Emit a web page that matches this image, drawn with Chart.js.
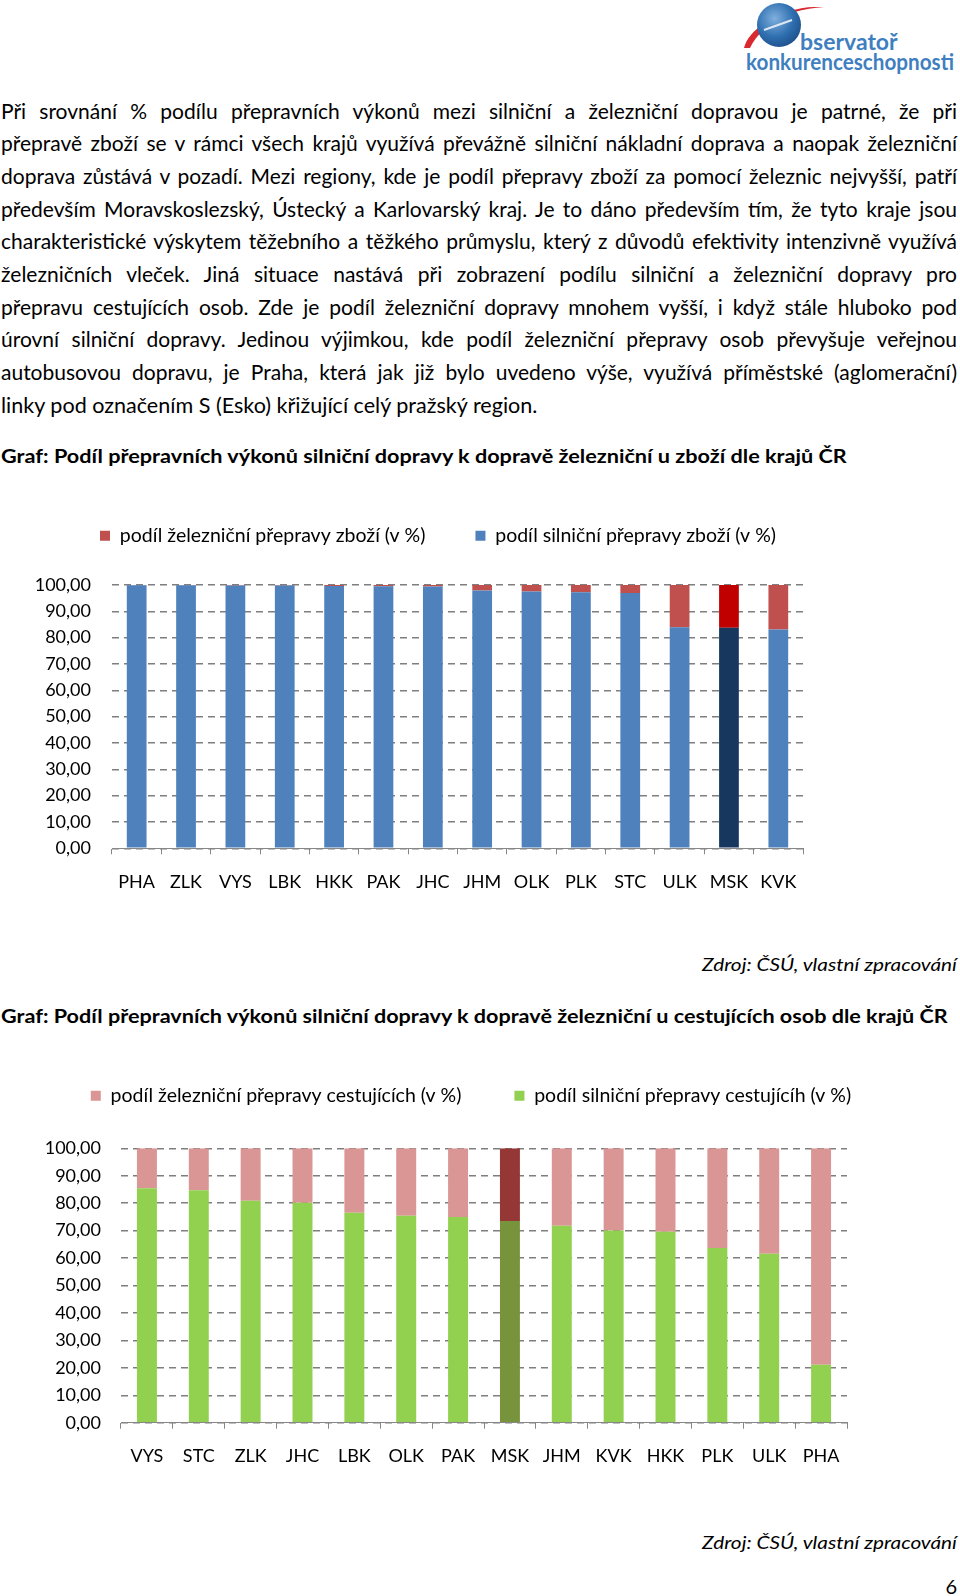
<!DOCTYPE html>
<html lang="cs">
<head>
<meta charset="utf-8">
<script src="https://cdn.jsdelivr.net/npm/chart.js@4.4.1/dist/chart.umd.min.js"></script>
<style>
  html, body { margin: 0; padding: 0; background: #fff; }
  body { width: 960px; height: 1596px; position: relative; overflow: hidden; font-family: Lato, "Open Sans", sans-serif; color: #000; }
  .line { position: absolute; left: 1px; width: 956px; font-size: 20px; line-height: 33px; text-align: justify; text-align-last: justify; }
  .line.last { text-align-last: left; }
  .title { position: absolute; left: 1px; font-size: 19.5px; font-weight: bold; line-height: 30px; white-space: nowrap; transform-origin: left center; }
  .src { position: absolute; right: 3px; font-size: 18px; font-style: italic; line-height: 26px; white-space: nowrap; transform-origin: right center; }
  .pg { position: absolute; right: 3px; top: 1573px; font-size: 20px; line-height: 26px; }
  canvas { position: absolute; left: 0; }
  #logo { position: absolute; left: 720px; top: 0; }
  #measure { position: absolute; visibility: hidden; white-space: nowrap; font-size: 20px; }
</style>
</head>
<body>

<svg id="logo" width="240" height="80" viewBox="0 0 240 80">
  <defs>
    <radialGradient id="ball" cx="40%" cy="35%" r="70%">
      <stop offset="0%" stop-color="#7fb0de"/>
      <stop offset="60%" stop-color="#2f6fb0"/>
      <stop offset="100%" stop-color="#1d4f8a"/>
    </radialGradient>
  </defs>
  <path d="M24 48 C 30 22, 80 2, 104 8 C 80 6, 42 22, 30 48 Z" fill="#d9282f"/>
  <circle cx="59" cy="25" r="22" fill="url(#ball)"/>
  <path d="M44 30 L72 20" stroke="#dbe7f3" stroke-width="2"/>
  <text x="80" y="50" font-family="Lato, sans-serif" font-weight="bold" font-size="23" fill="#3f7fbf">bservatoř</text>
  <text x="26" y="70" font-family="Lato, sans-serif" font-weight="bold" font-size="22" fill="#3f7fbf" textLength="208" lengthAdjust="spacingAndGlyphs">konkurenceschopnosti</text>
</svg>

<div id="para"></div>
<span id="measure"></span>

<div class="title" id="t1" style="top:441px">Graf: Podíl přepravních výkonů silniční dopravy k dopravě železniční u zboží dle krajů ČR</div>
<canvas id="goodsChart" width="876" height="440" style="top:476px"></canvas>
<div class="src" id="s1" style="top:951px">Zdroj: ČSÚ, vlastní zpracování</div>

<div class="title" id="t2" style="top:1001px">Graf: Podíl přepravních výkonů silniční dopravy k dopravě železniční u cestujících osob dle krajů ČR</div>
<canvas id="passChart" width="942" height="450" style="top:1033px"></canvas>
<div class="src" id="s2" style="top:1529px">Zdroj: ČSÚ, vlastní zpracování</div>

<div class="pg">6</div>

<script>
// Text of the page
const paraLines = [
  'Při srovnání % podílu přepravních výkonů mezi silniční a železniční dopravou je patrné, že při',
  'přepravě zboží se v rámci všech krajů využívá převážně silniční nákladní doprava a naopak železniční',
  'doprava zůstává v pozadí. Mezi regiony, kde je podíl přepravy zboží za pomocí železnic nejvyšší, patří',
  'především Moravskoslezský, Ústecký a Karlovarský kraj. Je to dáno především tím, že tyto kraje jsou',
  'charakteristické výskytem těžebního a těžkého průmyslu, který z důvodů efektivity intenzivně využívá',
  'železničních vleček. Jiná situace nastává při zobrazení podílu silniční a železniční dopravy pro',
  'přepravu cestujících osob. Zde je podíl železniční dopravy mnohem vyšší, i když stále hluboko pod',
  'úrovní silniční dopravy. Jedinou výjimkou, kde podíl železniční přepravy osob převyšuje veřejnou',
  'autobusovou dopravu, je Praha, která jak již bylo uvedeno výše, využívá příměstské (aglomerační)',
  'linky pod označením S (Esko) křižující celý pražský region.'
];

// Goods chart data
const goodsRegions = ['PHA', 'ZLK', 'VYS', 'LBK', 'HKK', 'PAK', 'JHC', 'JHM', 'OLK', 'PLK', 'STC', 'ULK', 'MSK', 'KVK'];
const goodsRoad = [99.9, 99.9, 99.85, 99.85, 99.6, 99.5, 99.4, 97.9, 97.5, 97.2, 97.0, 84.0, 83.8, 83.1];
const goodsRail = [0.1, 0.1, 0.15, 0.15, 0.4, 0.5, 0.6, 2.1, 2.5, 2.8, 3.0, 16.0, 16.2, 16.9];

// Passenger chart data
const passRegions = ['VYS', 'STC', 'ZLK', 'JHC', 'LBK', 'OLK', 'PAK', 'MSK', 'JHM', 'KVK', 'HKK', 'PLK', 'ULK', 'PHA'];
const passRoad = [85.4, 84.7, 80.9, 80.2, 76.5, 75.4, 75.0, 73.5, 71.8, 70.0, 69.6, 63.7, 61.6, 21.1];
const passRail = [14.6, 15.3, 19.1, 19.8, 23.5, 24.6, 25.0, 26.5, 28.2, 30.0, 30.4, 36.3, 38.4, 78.9];

const yTicks = { min: 0, max: 100, step: 10 };
const highlightRegion = 'MSK';

// paragraph font: as large as the widest full line allows
const measure = document.getElementById('measure');
let widest = 0;
paraLines.slice(0, -1).forEach(function(txt) {
    measure.textContent = txt;
    widest = Math.max(widest, measure.getBoundingClientRect().width);
});
const paraSize = Math.min(21, 20 * 948 / widest);

const para = document.getElementById('para');
paraLines.forEach(function(txt, i) {
    const d = document.createElement('div');
    d.className = 'line' + (i === paraLines.length - 1 ? ' last' : '');
    d.style.top = (110 + i * 32.7 - 16.5) + 'px';
    d.style.fontSize = paraSize + 'px';
    d.textContent = txt;
    para.appendChild(d);
});

// squeeze single-line texts to the width they have in the print
function fitWidth(el, target) {
    el.style.transform = 'scaleX(' + (target / el.scrollWidth) + ')';
}
fitWidth(document.getElementById('t1'), 846);
fitWidth(document.getElementById('t2'), 947);
fitWidth(document.getElementById('s1'), 255);
fitWidth(document.getElementById('s2'), 255);
const lastLine = para.lastChild;
lastLine.style.width = 'auto';
lastLine.style.whiteSpace = 'nowrap';
lastLine.style.transformOrigin = 'left center';
fitWidth(lastLine, 536);

Chart.defaults.font.family = 'Lato, "Open Sans", sans-serif';
Chart.defaults.color = '#000';

function fmt(v) {
    return v.toFixed(2).replace('.', ',');
}

// g: canvas top, plot left/right, y of 100 and 0, legend padding, tick paddings
function makeChart(id, labels, road, rail, names, colors, g) {
    const canvas = document.getElementById(id);
    const pick = function(normal, dark) {
        return function(ctx) {
            return ctx.chart.data.labels[ctx.dataIndex] === highlightRegion ? dark : normal;
        };
    };
    const legendHeight = g.top100 - g.canvasTop;
    const xHeight = g.canvasTop + canvas.height - g.bottom0;

    return new Chart(canvas, {
        type: 'bar',
        data: {
            labels: labels,
            datasets: [{
                label: names[1],
                data: road,
                backgroundColor: pick(colors.road, colors.roadDark),
                barPercentage: g.barPct,
                categoryPercentage: 1
            }, {
                label: names[0],
                data: rail,
                backgroundColor: pick(colors.rail, colors.railDark),
                barPercentage: g.barPct,
                categoryPercentage: 1
            }]
        },
        options: {
            responsive: false,
            animation: false,
            events: [],
            layout: { padding: 0 },
            plugins: {
                tooltip: { enabled: false },
                legend: {
                    reverse: true,
                    labels: {
                        boxWidth: 10,
                        boxHeight: 10,
                        padding: g.legendPad,
                        font: { size: 19.5 }
                    }
                }
            },
            scales: {
                x: {
                    stacked: true,
                    grid: { drawOnChartArea: false, drawTicks: true, tickLength: 6, color: '#878787' },
                    border: { display: true, color: '#878787' },
                    ticks: { padding: g.xPad, font: { size: 18 }, maxRotation: 0, autoSkip: false },
                    afterFit: function(s) { s.height = xHeight; }
                },
                y: {
                    stacked: true,
                    min: yTicks.min,
                    max: yTicks.max,
                    grid: { color: '#7f7f7f', lineWidth: 1.4, drawTicks: false },
                    border: { display: false, dash: [7, 5] },
                    ticks: { stepSize: yTicks.step, padding: g.yPad, font: { size: 18 }, callback: fmt },
                    afterFit: function(s) { s.width = g.left; }
                },
                y2: {
                    position: 'right',
                    display: true,
                    grid: { display: false, drawTicks: false },
                    border: { display: false },
                    ticks: { display: false },
                    afterFit: function(s) { s.width = canvas.width - g.right; }
                }
            }
        },
        plugins: [{
            id: 'legendBox',
            beforeInit: function(chart) {
                const origFit = chart.legend.fit;
                chart.legend.fit = function() {
                    origFit.bind(chart.legend)();
                    this.height = legendHeight;
                };
            }
        }]
    });
}

makeChart('goodsChart', goodsRegions, goodsRoad, goodsRail,
    ['podíl železniční přepravy zboží (v %)', 'podíl silniční přepravy zboží (v %)'],
    { road: '#4F81BD', roadDark: '#17375E', rail: '#C0504D', railDark: '#C00000' },
    { canvasTop: 476, top100: 585, bottom0: 848.3, left: 112, right: 803, barPct: 0.4, legendPad: 50, xPad: 17, yPad: 21 });

makeChart('passChart', passRegions, passRoad, passRail,
    ['podíl železniční přepravy cestujících (v %)', 'podíl silniční přepravy cestujícíh (v %)'],
    { road: '#92D050', roadDark: '#77933C', rail: '#DA9694', railDark: '#953735' },
    { canvasTop: 1033, top100: 1148.3, bottom0: 1422.7, left: 121, right: 847, barPct: 0.385, legendPad: 53, xPad: 17, yPad: 20 });
</script>
</body>
</html>
